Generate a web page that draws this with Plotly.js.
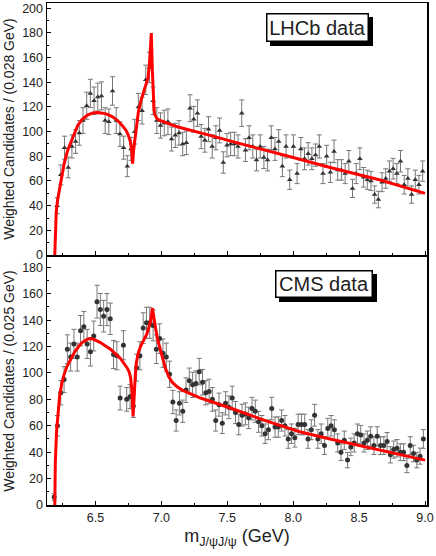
<!DOCTYPE html>
<html>
<head>
<meta charset="utf-8">
<script src="https://cdn.plot.ly/plotly-3.0.1.min.js"></script>
<style>
  html, body { margin: 0; padding: 0; background: #fff; }
  #chart { width: 436px; height: 556px; }
</style>
</head>
<body>
<div id="chart"></div>
<script>
// LHCb: 0.028 GeV bins starting at 6.21 GeV
const lhcbCounts = [
  40, 65, 87, 71, 88, 92, 99, 109, 121, 131,
  125, 128, 129, 109, 108, 133, 109, 98, 87, 72,
  86, 100, 120, 117, 142, 152, 125, 109, 105, 107,
  108, 94, 97, 99, 90, 91, 119, 110, 115, 96,
  93, 102, 88, 95, 101, 75, 89, 90, 90, 88,
  115, 85, 95, 88, 77, 88, 79, 77, 95, 86,
  92, 72, 88, 61, 88, 66, 86, 78, 82, 78,
  81, 88, 66, 80, 67, 84, 69, 69, 66, 76,
  54, 66, 78, 63, 61, 60, 49, 45, 59, 62,
  68, 70, 66, 76, 57, 62, 49, 61, 57, 68
]

// CMS: 0.025 GeV bins starting at 6.1875 GeV
const cmsCounts = [
  6, 60, 85, 95, 118, 112, 122, 112, 132, 135,
  122, 116, 128, 154, 148, 143, 148, 141, 114, 113,
  81, 121, 80, 82, 75, 104, 113, 134, 138, 138,
  136, 118, 126, 115, 112, 99, 78, 64, 77, 71,
  87, 94, 91, 92, 101, 93, 85, 86, 80, 64,
  76, 62, 77, 74, 81, 70, 61, 68, 69, 66,
  73, 71, 63, 60, 54, 57, 73, 59, 59, 64,
  60, 50, 54, 51, 61, 61, 61, 50, 57, 68,
  50, 54, 45, 58, 60, 57, 47, 40, 49, 34,
  44, 47, 54, 53, 47, 49, 52, 45, 52, 45,
  45, 48, 38, 42, 43, 40, 40, 30, 45, 39,
  34, 37, 50
]

// fit curves
const lhcbFitMass = [
  6.192, 6.196, 6.203, 6.214, 6.227, 6.24, 6.252, 6.265, 6.29, 6.315,
  6.34, 6.366, 6.4, 6.44, 6.48, 6.517, 6.555, 6.593, 6.63, 6.669,
  6.7, 6.733, 6.75, 6.765, 6.775, 6.782, 6.79, 6.8, 6.812, 6.826,
  6.848, 6.87, 6.9, 6.912, 6.924, 6.932, 6.94, 6.945, 6.95, 6.965,
  6.98, 7.05, 7.12, 7.37, 7.555, 8.0, 8.28, 8.66, 9.0
]
const lhcbFitCounts = [
  0, 20, 35, 45, 53, 60, 68, 75, 85, 92,
  99, 105, 110, 113.5, 115.2, 115.5, 115, 114, 112, 109,
  105.5, 101, 97, 92, 85, 74, 85, 95, 106, 116,
  126, 133, 144, 158, 180, 150, 125, 118, 114, 111,
  109.5, 106.5, 104, 97, 91.5, 79, 71, 60.8, 50
]

const cmsFitMass = [
  6.192, 6.196, 6.205, 6.215, 6.229, 6.245, 6.26, 6.285, 6.31, 6.34,
  6.373, 6.4, 6.437, 6.46, 6.487, 6.538, 6.614, 6.69, 6.74, 6.755,
  6.766, 6.773, 6.778, 6.786, 6.79, 6.796, 6.803, 6.811, 6.825, 6.842,
  6.865, 6.892, 6.918, 6.933, 6.945, 6.956, 6.97, 6.989, 7.01, 7.03,
  7.055, 7.082, 7.12, 7.158, 7.297, 7.55, 7.8, 8.05, 8.28, 8.66,
  9.0
]
const cmsFitCounts = [
  0, 32, 55, 68, 83, 92, 98, 105, 110, 115.5,
  120, 123, 125.5, 126, 125.5, 123, 118, 111, 104, 101,
  97, 92, 86, 67, 76, 87, 99, 108, 115, 120,
  125, 130, 139, 149, 141, 134, 126, 119, 111, 104,
  97.5, 93, 89.5, 87, 81, 72.5, 63.5, 55.5, 50, 41.5,
  34
]

const font = 'Liberation Sans, Arial, sans-serif'

function points (counts, x0, dx, symbol, xaxis, yaxis) {
  return {
    y: counts, x0, dx, xaxis, yaxis,
    type: 'scatter', mode: 'markers',
    marker: {symbol, size: 5, color: '#333'},
    error_y: {type: 'sqrt', color: '#777', thickness: 1, width: 2.5},
    hoverinfo: 'skip'
  }
}

function fit (x, y, xaxis, yaxis) {
  return {x, y, xaxis, yaxis, type: 'scatter', mode: 'lines', line: {color: '#ff0000', width: 3}}
}

// white label box with a black drop shadow behind it
function label (text, x, y, width, height) {
  const base = {
    text, x, y, width, height, xref: 'paper', yref: 'paper',
    xanchor: 'center', yanchor: 'middle', showarrow: false,
    borderwidth: 1.5, borderpad: 0, bordercolor: '#000',
    font: {family: font, size: 20, color: '#222'}
  }
  return [
    {...base, xshift: 4, yshift: -4, bgcolor: '#000', font: {...base.font, color: '#000'}},
    {...base, bgcolor: '#fff'}
  ]
}

const axis = {
  showline: true, linecolor: '#000', linewidth: 1.5, mirror: true,
  ticks: 'inside', ticklen: 4, tickwidth: 1, tickcolor: '#000',
  showgrid: false, zeroline: false,
  tickfont: {family: font, size: 12.5, color: '#222'}
}
const xBase = {
  ...axis, range: [6.133, 9.015], dtick: 0.5, tick0: 6.5, tickformat: '.1f',
  minor: {ticks: 'inside', ticklen: 2, dtick: 0.25, tickcolor: '#000'}
}
const yBase = {
  ...axis, dtick: 20,
  minor: {ticks: 'inside', ticklen: 2, dtick: 10, tickcolor: '#000'}
}

const traces = [
  points(lhcbCounts, 6.21, 0.028, 'triangle-up', 'x', 'y'),
  fit(lhcbFitMass, lhcbFitCounts, 'x', 'y'),
  points(cmsCounts, 6.1875, 0.025, 'circle', 'x2', 'y2'),
  fit(cmsFitMass, cmsFitCounts, 'x2', 'y2')
]

const layout = {
  width: 436, height: 556,
  margin: {l: 47, r: 9, t: 3, b: 51},
  paper_bgcolor: '#fff', plot_bgcolor: '#fff',
  font: {family: font, color: '#222'},
  showlegend: false,
  xaxis: {...xBase, anchor: 'y', showticklabels: false, matches: 'x2'},
  xaxis2: {
    ...xBase, anchor: 'y2',
    title: {text: 'm<sub>J/ψJ/ψ</sub> (GeV)', font: {family: font, size: 18, color: '#222'}, standoff: 6}
  },
  yaxis: {
    ...yBase, domain: [0.498, 1], range: [0, 204.3], anchor: 'x',
    title: {text: 'Weighted Candidates / (0.028 GeV)', font: {family: font, size: 14, color: '#222'}, standoff: 4}
  },
  yaxis2: {
    ...yBase, domain: [0, 0.494], range: [0, 187.8], anchor: 'x2',
    title: {text: 'Weighted Candidates / (0.025 GeV)', font: {family: font, size: 14, color: '#222'}, standoff: 4}
  },
  annotations: [
    ...label('LHCb data', 0.712, 0.951, 100, 26),
    ...label('CMS data', 0.729, 0.441, 95, 25)
  ]
}

Plotly.newPlot('chart', traces, layout, {displayModeBar: false, staticPlot: true})
</script>
</body>
</html>
